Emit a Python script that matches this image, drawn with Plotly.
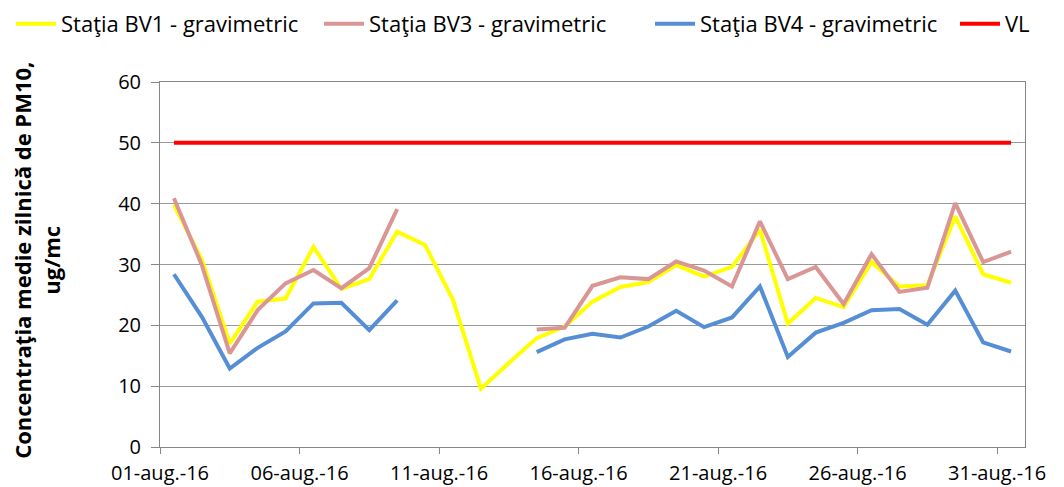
import plotly.graph_objects as go

days = list(range(1, 32))
dates = [f"2016-08-{d:02d} 12:00" for d in days]

bv1 = [39.8, 30.8, 17.0, 23.9, 24.4, 32.9, 26.0, 27.6, 35.4, 33.2, 24.2, 9.6, 13.8, 17.9, 19.8,
       23.9, 26.3, 27.1, 29.9, 28.0, 29.6, 35.7, 20.3, 24.5, 23.0, 30.4, 26.4, 26.6, 37.9, 28.4, 27.0]
bv3 = [40.9, 29.9, 15.4, 22.5, 26.9, 29.1, 26.1, 29.4, 39.1, None, None, None, None, 19.3, 19.6,
       26.5, 27.9, 27.6, 30.5, 29.0, 26.4, 37.1, 27.6, 29.6, 23.5, 31.7, 25.5, 26.2, 40.1, 30.4, 32.1]
bv4 = [28.4, 21.4, 12.9, 16.3, 19.0, 23.6, 23.7, 19.2, 24.1, None, None, None, None, 15.6, 17.7,
       18.6, 18.0, 19.8, 22.4, 19.7, 21.3, 26.4, 14.8, 18.8, 20.4, 22.5, 22.7, 20.1, 25.7, 17.2, 15.7]
vl = [50] * 31

tick_dates = ["2016-08-01", "2016-08-06", "2016-08-11", "2016-08-16", "2016-08-21", "2016-08-26", "2016-08-31"]
tick_text = ["01-aug.-16", "06-aug.-16", "11-aug.-16", "16-aug.-16", "21-aug.-16", "26-aug.-16", "31-aug.-16"]

names = ["Staţia BV1 - gravimetric", "Staţia BV3 - gravimetric", "Staţia BV4 - gravimetric", "VL"]
colors = ["#FFFF00", "#D99694", "#558ED5", "#FF0000"]
series = [bv1, bv3, bv4, vl]
y_title = "<b>Concentraţia medie zilnică de PM10,<br>ug/mc</b>"

FONT = "Open Sans"
FS = 20
LFS = 22
W, H = 1056, 479
ML, MR, MT, MB = 152, 39, 74, 40
PLOT_W = W - ML - MR
PLOT_H = H - MT - MB

legend_ids = ["legend", "legend2", "legend3", "legend4"]
legend_x_px = [3, 311, 642, 947]

fig = go.Figure()
for name, col, ys, lid in zip(names, colors, series, legend_ids):
    fig.add_trace(go.Scatter(x=dates, y=ys, name=name, mode="lines",
                             line=dict(color=col, width=4), connectgaps=False,
                             legend=lid))

leg_common = dict(orientation="h", xanchor="left", y=1 + 58 / PLOT_H, yanchor="middle",
                  yref="paper", xref="container",
                  font=dict(family=FONT, size=LFS, color="#000000"),
                  bgcolor="rgba(0,0,0,0)", itemwidth=40)
legend_layout = {lid: dict(x=px / W, **leg_common) for lid, px in zip(legend_ids, legend_x_px)}

fig.update_layout(
    width=W, height=H,
    margin=dict(l=ML, r=MR, t=MT, b=MB, autoexpand=False),
    paper_bgcolor="white", plot_bgcolor="white",
    font=dict(family=FONT, size=FS, color="#000000"),
    showlegend=True,
    xaxis=dict(type="date", range=["2016-08-01", "2016-09-01"], automargin=False,
               tickmode="array", tickvals=tick_dates, ticktext=tick_text,
               showgrid=False, showline=True, linecolor="#868686", linewidth=1,
               mirror=True, ticks="outside", ticklen=6, tickcolor="#868686",
               ticklabelstandoff=2,
               tickfont=dict(family=FONT, size=FS, color="#000000")),
    yaxis=dict(range=[0, 60], tickvals=[0, 10, 20, 30, 40, 50, 60], automargin=False,
               showgrid=True, gridcolor="#9a9a9a", gridwidth=1,
               showline=True, linecolor="#868686", linewidth=1, mirror=True,
               ticks="outside", ticklen=8, tickcolor="#868686",
               ticklabelstandoff=6,
               zeroline=False,
               tickfont=dict(family=FONT, size=FS, color="#000000")),
    annotations=[dict(text=y_title, textangle=-90, xref="paper", yref="paper",
                      x=(29 - ML) / PLOT_W, y=0.51, xanchor="center", yanchor="middle",
                      showarrow=False, font=dict(family=FONT, size=LFS, color="#000000"))],
    **legend_layout,
)

fig.write_html("out.html")
